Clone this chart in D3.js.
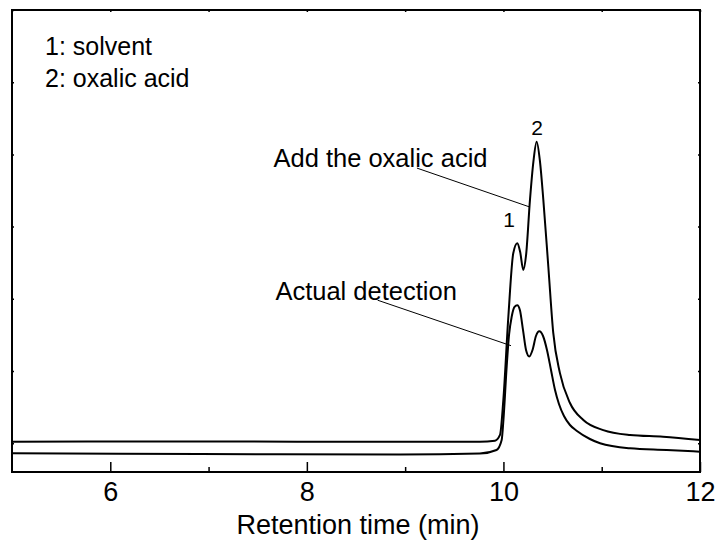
<!DOCTYPE html>
<html>
<head>
<meta charset="utf-8">
<script src="https://cdn.jsdelivr.net/npm/d3@7"></script>
<style>
  body { margin: 0; background: #fff; }
  svg { font-family: "Liberation Sans", Arial, sans-serif; }
</style>
</head>
<body>
<div id="chart"></div>
<script>
/* DATA */
// retention time (min) and detector signal (arbitrary units)
const addedTime = [5.0, 6.4, 7.9, 9.46, 9.76, 9.914, 9.965, 9.999, 10.05, 10.10, 10.141, 10.17, 10.202, 10.23, 10.27, 10.305, 10.338, 10.372, 10.406, 10.457, 10.507, 10.575, 10.677, 10.813, 11.016, 11.288, 11.624, 12.0];
const addedSignal = [42, 42.3, 42, 42, 42, 43.4, 51.3, 99.7, 215, 303, 317, 305, 280, 300, 377, 430, 457.6, 430, 377, 284, 192.6, 137, 95.6, 72, 58, 51.3, 48.9, 44.3];

const actualTime = [5.0, 6.913, 8.948, 9.76, 9.93, 9.982, 10.0, 10.033, 10.057, 10.084, 10.113, 10.141, 10.168, 10.199, 10.23, 10.263, 10.296, 10.331, 10.365, 10.403, 10.443, 10.484, 10.525, 10.565, 10.616, 10.677, 10.748, 10.88, 10.983, 11.288, 11.661, 12.0];
const actualSignal = [25.9, 24.9, 24.2, 25.6, 30.5, 44.3, 72, 146, 190, 215, 228.6, 231, 224, 197, 169, 160, 169, 188.4, 195, 188.4, 169, 141.3, 113.6, 94.2, 77.6, 65.1, 56.8, 45.7, 39.8, 32.8, 30.5, 28.1];

const xMajorTicks = [6, 8, 10, 12];
const xMinorTicks = [7, 9, 11];
const yTicks = [40, 140, 240, 340, 440, 540, 640];

const legendLines = ["1: solvent", "2: oxalic acid"];
const peakLabels = [{ text: "1", t: 10.057, v: 339 }, { text: "2", t: 10.342, v: 467 }];
const callouts = [
  { text: "Add the oxalic acid", tx: 7.66, tv: 422, from: [9.12, 421], to: [10.27, 367] },
  { text: "Actual detection", tx: 7.68, tv: 238, from: [8.72, 238], to: [10.077, 175] }
];

/* LAYOUT */
const width = 719, height = 543;
const margin = { top: 10, right: 19, bottom: 71, left: 12 };

const svg = d3.select("#chart").append("svg")
  .attr("width", width)
  .attr("height", height);

const xScale = d3.scaleLinear()
  .domain([5, 12])
  .range([margin.left, width - margin.right]);

const yScale = d3.scaleLinear()
  .domain([0, 640])
  .range([height - margin.bottom, margin.top]);

// axes: ticks point inward, no labels on y
const xAxis = d3.axisBottom(xScale).tickValues(xMajorTicks).tickSize(-10).tickPadding(10).tickFormat(d3.format("d"));
const xMinor = d3.axisBottom(xScale).tickValues(xMinorTicks).tickSize(-5).tickFormat("");
const xTop = d3.axisTop(xScale).tickValues(xMajorTicks.concat(xMinorTicks)).tickSize(-2).tickFormat("");
const yLeft = d3.axisLeft(yScale).tickValues(yTicks).tickSize(-2).tickFormat("");
const yRight = d3.axisRight(yScale).tickValues(yTicks).tickSize(-2).tickFormat("");

const bottomY = height - margin.bottom;

const gx = svg.append("g").attr("transform", `translate(0,${bottomY})`).call(xAxis);
gx.selectAll("text").attr("font-size", 27).attr("fill", "#000").attr("font-family", "Liberation Sans, Arial, sans-serif");
svg.append("g").attr("transform", `translate(0,${bottomY})`).call(xMinor);
svg.append("g").attr("transform", `translate(0,${margin.top})`).call(xTop);
svg.append("g").attr("transform", `translate(${margin.left},0)`).call(yLeft);
svg.append("g").attr("transform", `translate(${width - margin.right},0)`).call(yRight);

svg.selectAll(".domain").remove();
svg.selectAll(".tick line").attr("stroke", "#000").attr("stroke-width", 1.5);

// frame
svg.append("rect")
  .attr("x", margin.left)
  .attr("y", margin.top)
  .attr("width", width - margin.left - margin.right)
  .attr("height", height - margin.top - margin.bottom)
  .attr("fill", "none")
  .attr("stroke", "#000")
  .attr("stroke-width", 2);

svg.append("text")
  .attr("x", (margin.left + width - margin.right) / 2 + 2)
  .attr("y", 534)
  .attr("text-anchor", "middle")
  .attr("font-size", 27)
  .text("Retention time (min)");

// traces
const lineGen = d3.line()
  .x(d => xScale(d[0]))
  .y(d => yScale(d[1]))
  .curve(d3.curveMonotoneX);

const traces = [d3.zip(addedTime, addedSignal), d3.zip(actualTime, actualSignal)];

svg.selectAll("path.trace")
  .data(traces)
  .join("path")
  .attr("class", "trace")
  .attr("fill", "none")
  .attr("stroke", "#000")
  .attr("stroke-width", 2)
  .attr("d", d => lineGen(d));

// callouts
svg.selectAll("line.callout")
  .data(callouts)
  .join("line")
  .attr("class", "callout")
  .attr("x1", d => xScale(d.from[0]))
  .attr("y1", d => yScale(d.from[1]))
  .attr("x2", d => xScale(d.to[0]))
  .attr("y2", d => yScale(d.to[1]))
  .attr("stroke", "#000")
  .attr("stroke-width", 1);

svg.selectAll("text.callout")
  .data(callouts)
  .join("text")
  .attr("class", "callout")
  .attr("x", d => xScale(d.tx))
  .attr("y", d => yScale(d.tv))
  .attr("font-size", 25.5)
  .text(d => d.text);

svg.selectAll("text.peak")
  .data(peakLabels)
  .join("text")
  .attr("class", "peak")
  .attr("x", d => xScale(d.t))
  .attr("y", d => yScale(d.v))
  .attr("text-anchor", "middle")
  .attr("font-size", 21)
  .text(d => d.text);

// legend
svg.selectAll("text.legend")
  .data(legendLines)
  .join("text")
  .attr("class", "legend")
  .attr("x", 45)
  .attr("y", (d, i) => 55 + i * 32)
  .attr("font-size", 25)
  .text(d => d);
</script>
</body>
</html>
